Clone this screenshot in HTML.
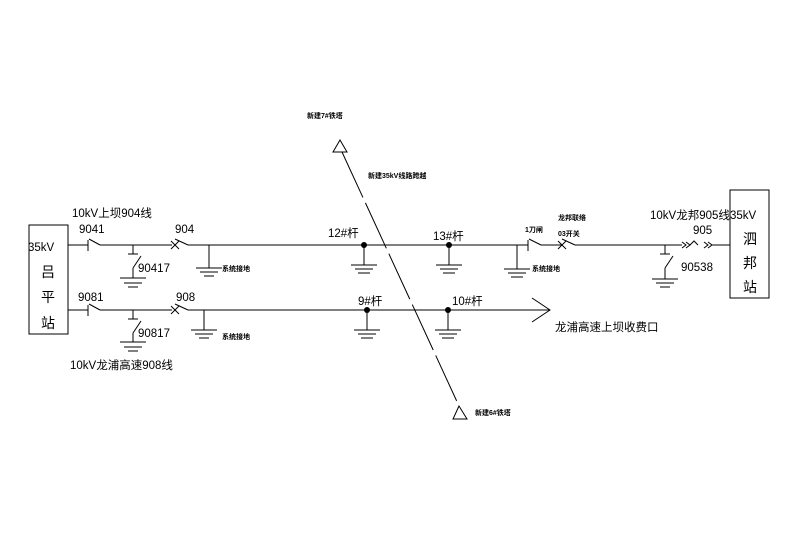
<!DOCTYPE html>
<html><head><meta charset="utf-8"><style>
html,body{margin:0;padding:0;background:#fff;}
svg{display:block;}
text{font-family:"Liberation Sans","Noto Sans CJK SC",sans-serif;fill:#000;}
.s{font-size:11.5px;}
.b{font-size:14px;}
.t{font-size:7px;font-weight:bold;}
</style></head><body>
<svg width="800" height="550" viewBox="0 0 800 550" xmlns="http://www.w3.org/2000/svg">
<g stroke="#000" stroke-width="1" fill="none">
<rect x="29" y="225" width="39" height="109"/>
<line x1="68" y1="245" x2="88" y2="245"/>
<line x1="88" y1="240" x2="88" y2="251"/>
<line x1="89" y1="239" x2="100" y2="245"/>
<line x1="100" y1="245" x2="172" y2="245"/>
<line x1="171" y1="241" x2="179" y2="249"/><line x1="171" y1="249" x2="179" y2="241"/>
<line x1="175" y1="239" x2="188" y2="245"/>
<line x1="188" y1="245" x2="528" y2="245"/>
<line x1="528" y1="240" x2="528" y2="251"/>
<line x1="529" y1="239" x2="541" y2="245"/>
<line x1="541" y1="245" x2="562" y2="245"/>
<line x1="558" y1="241" x2="566" y2="249"/><line x1="558" y1="249" x2="566" y2="241"/>
<line x1="562" y1="239" x2="575" y2="245"/>
<line x1="575" y1="245" x2="682" y2="245"/>
<path d="M682 242 L686 245 L682 248 M686 242 L690 245 L686 248"/>
<path d="M690 245 L694 241 L698 245"/>
<path d="M704 242 L708 245 L704 248 M708 242 L712 245 L708 248"/>
<line x1="712" y1="245" x2="730" y2="245"/>
<line x1="133" y1="245" x2="133" y2="254"/><line x1="128" y1="254" x2="138" y2="254"/>
<line x1="141" y1="256" x2="133" y2="268"/><line x1="133" y1="268" x2="133" y2="278"/>
<line x1="120" y1="278" x2="146" y2="278"/><line x1="124" y1="283" x2="142" y2="283"/><line x1="128" y1="287" x2="138" y2="287"/>
<line x1="209" y1="245" x2="209" y2="268"/>
<line x1="196" y1="268" x2="222" y2="268"/><line x1="200" y1="272" x2="218" y2="272"/><line x1="204" y1="276" x2="214" y2="276"/>
<line x1="364" y1="245" x2="364" y2="265"/>
<line x1="351" y1="265" x2="377" y2="265"/><line x1="355" y1="269" x2="373" y2="269"/><line x1="358" y1="273" x2="370" y2="273"/>
<line x1="449" y1="245" x2="449" y2="265"/>
<line x1="436" y1="265" x2="462" y2="265"/><line x1="440" y1="269" x2="458" y2="269"/><line x1="443" y1="273" x2="455" y2="273"/>
<line x1="517" y1="245" x2="517" y2="269"/>
<line x1="504" y1="269" x2="530" y2="269"/><line x1="508" y1="273" x2="526" y2="273"/><line x1="511" y1="277" x2="523" y2="277"/>
<line x1="665" y1="245" x2="665" y2="254"/><line x1="660" y1="254" x2="670" y2="254"/>
<line x1="673" y1="256" x2="665" y2="268"/><line x1="665" y1="268" x2="665" y2="279"/>
<line x1="652" y1="279" x2="678" y2="279"/><line x1="656" y1="283" x2="674" y2="283"/><line x1="660" y1="287" x2="670" y2="287"/>
<rect x="730" y="190" width="39" height="108"/>
<line x1="68" y1="310" x2="88" y2="310"/>
<line x1="88" y1="305" x2="88" y2="316"/>
<line x1="89" y1="304" x2="100" y2="310"/>
<line x1="100" y1="310" x2="172" y2="310"/>
<line x1="171" y1="306" x2="179" y2="314"/><line x1="171" y1="314" x2="179" y2="306"/>
<line x1="175" y1="304" x2="188" y2="310"/>
<line x1="188" y1="310" x2="550" y2="310"/>
<path d="M532 298 L550 310 L532 322"/>
<line x1="133" y1="310" x2="133" y2="319"/><line x1="128" y1="319" x2="138" y2="319"/>
<line x1="141" y1="321" x2="133" y2="333"/><line x1="133" y1="333" x2="133" y2="342"/>
<line x1="120" y1="342" x2="146" y2="342"/><line x1="124" y1="347" x2="142" y2="347"/><line x1="128" y1="351" x2="138" y2="351"/>
<line x1="204" y1="310" x2="204" y2="330"/>
<line x1="191" y1="330" x2="217" y2="330"/><line x1="195" y1="334" x2="213" y2="334"/><line x1="199" y1="338" x2="209" y2="338"/>
<line x1="367" y1="310" x2="367" y2="330"/>
<line x1="354" y1="330" x2="380" y2="330"/><line x1="358" y1="334" x2="376" y2="334"/><line x1="361" y1="338" x2="373" y2="338"/>
<line x1="448" y1="310" x2="448" y2="330"/>
<line x1="435" y1="330" x2="461" y2="330"/><line x1="439" y1="334" x2="457" y2="334"/><line x1="442" y1="338" x2="454" y2="338"/>
<line x1="342" y1="152" x2="459" y2="406" stroke-dasharray="50 6"/>
<path d="M340 140 L333 152 L347 152 Z"/>
<path d="M459 406 L453 419 L467 419 Z"/>
</g>
<g fill="#000">
<circle cx="364" cy="245" r="3"/><circle cx="449" cy="245" r="3"/>
<circle cx="367" cy="310" r="3"/><circle cx="448" cy="310" r="3"/>
</g>
<text class="s" x="28" y="251">35kV</text>
<text class="b" x="41" y="277">吕</text>
<text class="b" x="41" y="302">平</text>
<text class="b" x="41" y="328">站</text>
<text class="s" x="72" y="217">10kV上坝904线</text>
<text class="s" x="79" y="233">9041</text>
<text class="s" x="175" y="233">904</text>
<text class="s" x="138" y="272">90417</text>
<text class="t" x="222" y="271">系统接地</text>
<text class="s" x="78" y="301">9081</text>
<text class="s" x="176" y="301">908</text>
<text class="s" x="138" y="337">90817</text>
<text class="t" x="222" y="339">系统接地</text>
<text class="s" x="70" y="369">10kV龙浦高速908线</text>
<text class="s" x="328" y="237">12#杆</text>
<text class="s" x="433" y="240">13#杆</text>
<text class="s" x="358" y="305">9#杆</text>
<text class="s" x="452" y="305">10#杆</text>
<text class="t" x="307" y="118">新建7#铁塔</text>
<text class="t" x="368" y="178">新建35kV线路跨越</text>
<text class="t" x="475" y="415">新建6#铁塔</text>
<text class="t" x="525" y="232">1刀闸</text>
<text class="t" x="558" y="220">龙邦联络</text>
<text class="t" x="558" y="236">03开关</text>
<text class="t" x="532" y="271">系统接地</text>
<text class="s" x="555" y="331">龙浦高速上坝收费口</text>
<text class="s" x="650" y="219">10kV龙邦905线</text>
<text class="s" x="730" y="219">35kV</text>
<text class="s" x="693" y="234">905</text>
<text class="s" x="681" y="271">90538</text>
<text class="b" x="743" y="244">泗</text>
<text class="b" x="743" y="268">邦</text>
<text class="b" x="743" y="292">站</text>
</svg>
</body></html>
